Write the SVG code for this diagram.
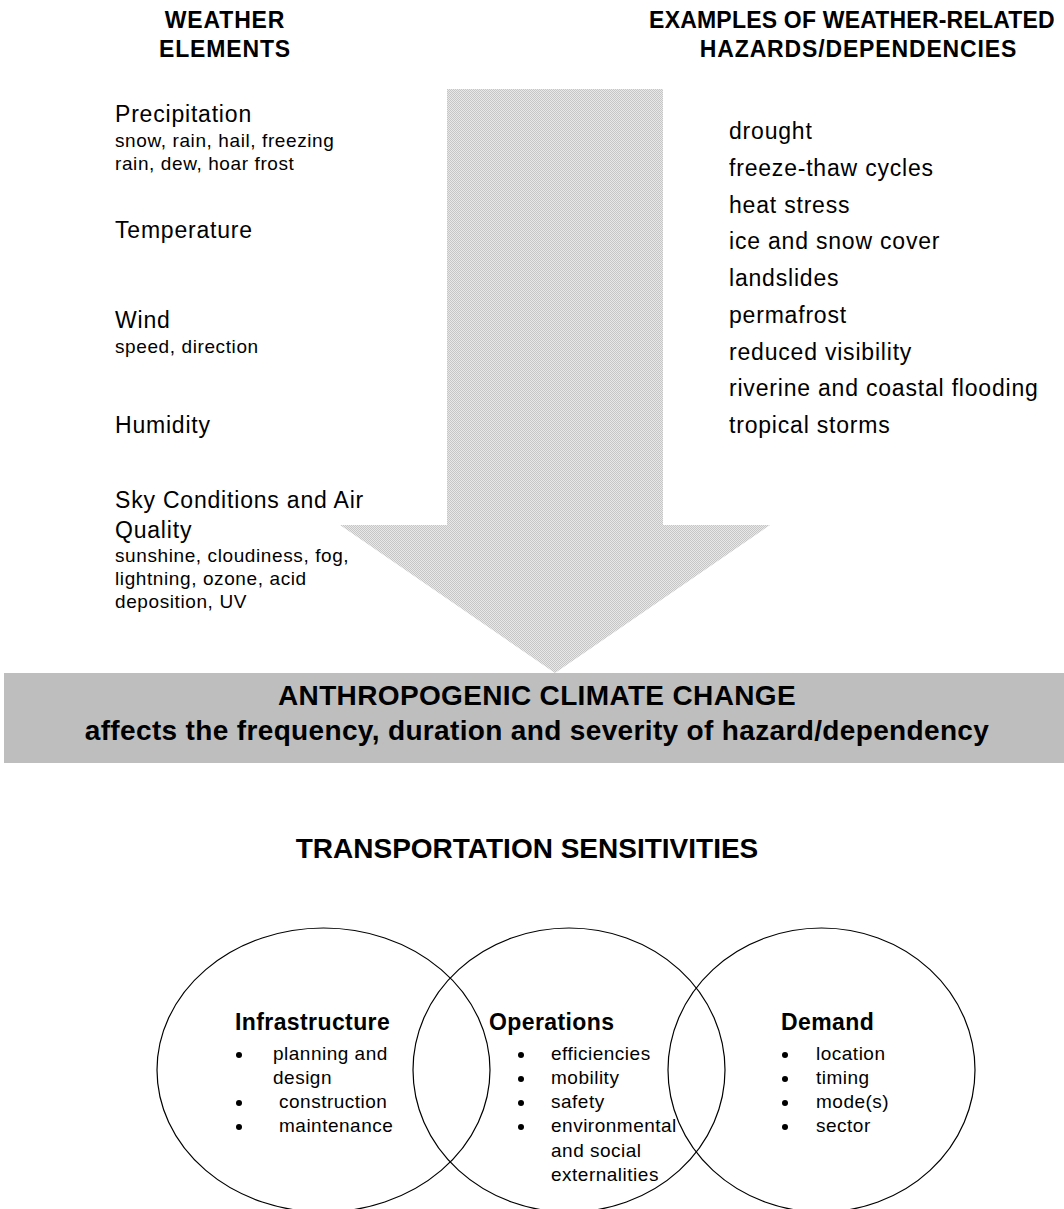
<svg xmlns="http://www.w3.org/2000/svg" width="1064" height="1209" viewBox="0 0 1064 1209">
  <defs>
    <pattern id="dither" width="2" height="2" patternUnits="userSpaceOnUse">
      <rect width="2" height="2" fill="#e8e8e8"/>
      <rect x="0" y="0" width="1" height="1" fill="#c6c6c6"/>
      <rect x="1" y="1" width="1" height="1" fill="#c6c6c6"/>
    </pattern>
    <style>
      text { font-family: "Liberation Sans", Arial, sans-serif; fill: #000; }
      .hd { font-size: 23px; font-weight: bold; letter-spacing: 0.85px; text-anchor: middle; }
      .m { font-size: 23px; letter-spacing: 0.8px; }
      .s { font-size: 19px; letter-spacing: 0.6px; }
      .bn { font-size: 28px; font-weight: bold; letter-spacing: 0.35px; text-anchor: middle; }
      .tt { font-size: 28px; font-weight: bold; text-anchor: middle; }
      .ct { font-size: 23px; font-weight: bold; letter-spacing: 0.4px; }
      .it { font-size: 19px; letter-spacing: 0.5px; }
      .venn { fill: none; stroke: #000; stroke-width: 1.2; }
      .dot { fill: #000; }
    </style>
  </defs>
  <rect width="1064" height="1209" fill="#fff"/>

  <g id="connectors">
    <polygon id="big-arrow" points="447,89 663,89 663,525 770,525 555,673 340,525 447,525" fill="url(#dither)"/>
  </g>

  <g id="weather-elements-header">
    <text class="hd" x="225" y="28">WEATHER</text>
    <text class="hd" x="225" y="57">ELEMENTS</text>
  </g>

  <g id="hazards-header">
    <text class="hd" x="852" y="28" style="letter-spacing:0.2px">EXAMPLES OF WEATHER-RELATED</text>
    <text class="hd" x="858.5" y="57">HAZARDS/DEPENDENCIES</text>
  </g>

  <g id="weather-elements">
    <text class="m" x="115" y="122">Precipitation</text>
    <text class="s" x="115" y="147">snow, rain, hail, freezing</text>
    <text class="s" x="115" y="170">rain, dew, hoar frost</text>
    <text class="m" x="115" y="238">Temperature</text>
    <text class="m" x="115" y="328">Wind</text>
    <text class="s" x="115" y="353">speed, direction</text>
    <text class="m" x="115" y="433">Humidity</text>
    <text class="m" x="115" y="508">Sky Conditions and Air</text>
    <text class="m" x="115" y="538">Quality</text>
    <text class="s" x="115" y="562">sunshine, cloudiness, fog,</text>
    <text class="s" x="115" y="585">lightning, ozone, acid</text>
    <text class="s" x="115" y="608">deposition, UV</text>
  </g>

  <g id="hazards">
    <text class="m" x="729" y="139">drought</text>
    <text class="m" x="729" y="175.75">freeze-thaw cycles</text>
    <text class="m" x="729" y="212.5">heat stress</text>
    <text class="m" x="729" y="249.25">ice and snow cover</text>
    <text class="m" x="729" y="286">landslides</text>
    <text class="m" x="729" y="322.75">permafrost</text>
    <text class="m" x="729" y="359.5">reduced visibility</text>
    <text class="m" x="729" y="396.25">riverine and coastal flooding</text>
    <text class="m" x="729" y="433">tropical storms</text>
  </g>

  <g id="climate-change-banner">
    <rect x="4" y="673" width="1062" height="90" fill="#bebebe"/>
    <text class="bn" x="537" y="705">ANTHROPOGENIC CLIMATE CHANGE</text>
    <text class="bn" x="537" y="740">affects the frequency, duration and severity of hazard/dependency</text>
  </g>

  <g id="transportation-header">
    <text class="tt" x="527" y="858">TRANSPORTATION SENSITIVITIES</text>
  </g>

  <g id="infrastructure">
    <ellipse class="venn" cx="323.5" cy="1070" rx="166.5" ry="142"/>
    <text class="ct" x="235" y="1030">Infrastructure</text>
    <circle class="dot" cx="239" cy="1055" r="3"/>
    <text class="it" x="273" y="1060">planning and</text>
    <text class="it" x="273" y="1084">design</text>
    <circle class="dot" cx="239" cy="1103" r="3"/>
    <text class="it" x="279" y="1108">construction</text>
    <circle class="dot" cx="239" cy="1127" r="3"/>
    <text class="it" x="279" y="1132">maintenance</text>
  </g>

  <g id="operations">
    <ellipse class="venn" cx="569" cy="1070" rx="156" ry="142"/>
    <text class="ct" x="489" y="1030">Operations</text>
    <circle class="dot" cx="521" cy="1055" r="3"/>
    <text class="it" x="551" y="1060">efficiencies</text>
    <circle class="dot" cx="521" cy="1079" r="3"/>
    <text class="it" x="551" y="1084">mobility</text>
    <circle class="dot" cx="521" cy="1103" r="3"/>
    <text class="it" x="551" y="1108">safety</text>
    <circle class="dot" cx="521" cy="1127" r="3"/>
    <text class="it" x="551" y="1132">environmental</text>
    <text class="it" x="551" y="1157">and social</text>
    <text class="it" x="551" y="1181">externalities</text>
  </g>

  <g id="demand">
    <ellipse class="venn" cx="821.5" cy="1070" rx="153.5" ry="142"/>
    <text class="ct" x="781" y="1030">Demand</text>
    <circle class="dot" cx="785" cy="1055" r="3"/>
    <text class="it" x="816" y="1060">location</text>
    <circle class="dot" cx="785" cy="1079" r="3"/>
    <text class="it" x="816" y="1084">timing</text>
    <circle class="dot" cx="785" cy="1103" r="3"/>
    <text class="it" x="816" y="1108">mode(s)</text>
    <circle class="dot" cx="785" cy="1127" r="3"/>
    <text class="it" x="816" y="1132">sector</text>
  </g>
</svg>
